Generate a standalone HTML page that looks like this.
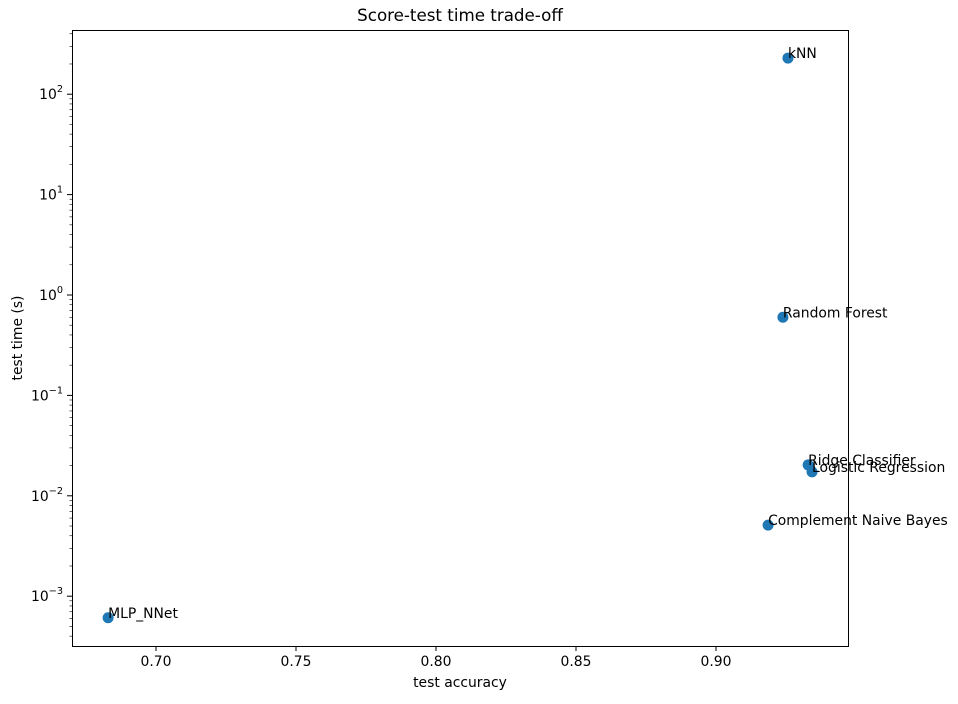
<!DOCTYPE html>
<html><head><meta charset="utf-8"><style>
body{margin:0;background:#fff;}
svg text{font-family:"DejaVu Sans","Liberation Sans",sans-serif;fill:#000;}
</style></head><body>
<svg id="chart" width="958" height="699" viewBox="0 0 958 699" xmlns="http://www.w3.org/2000/svg">
<text x="460" y="21" font-size="16.7" text-anchor="middle">Score-test time trade-off</text>
<g id="plot"></g>
<rect x="72.5" y="30.5" width="776" height="616" fill="none" stroke="#000" stroke-width="1"/>
<text x="460" y="687" font-size="13.9" text-anchor="middle">test accuracy</text>
<text transform="translate(22,338) rotate(-90)" font-size="13.9" text-anchor="middle">test time (s)</text>
</svg>
<script>
const models = ["kNN","Random Forest","Ridge Classifier","Logistic Regression","Complement Naive Bayes","MLP_NNet"];
const accuracy = [0.9257,0.9239,0.9329,0.9343,0.9186,0.6829];
const testTime = [229,0.60,0.0203,0.0173,0.0051,0.00061];
const xTicks = [0.70,0.75,0.80,0.85,0.90];
const xTickLabels = ["0.70","0.75","0.80","0.85","0.90"];
const yTickExp = [-3,-2,-1,0,1,2];

const NS="http://www.w3.org/2000/svg";
const g=document.getElementById('plot');
function x(v){return 156+(v-0.7)*2800;}
function y(v){return 295-Math.log10(v)*100.4;}
function mk(t,a){const e=document.createElementNS(NS,t);for(const k in a)e.setAttribute(k,a[k]);g.appendChild(e);return e;}

xTicks.forEach((v,i)=>{
  const t=mk('line',{x1:x(v),x2:x(v),y1:646,y2:651,stroke:'#000'});
  
  
  const l=mk('text',{x:x(v),y:666,'font-size':13.9,'text-anchor':'middle'});
  l.textContent=xTickLabels[i];
  
  
});
yTickExp.forEach(e=>{
  const yy=y(Math.pow(10,e));
  const t=mk('line',{x1:67,x2:72,y1:yy,y2:yy,stroke:'#000'});
  
  
  const l=mk('text',{x:63,y:yy+5,'font-size':13.9,'text-anchor':'end'});
  l.innerHTML='10<tspan dy="-7" font-size="9.7">'+(e<0?'\u2212'+(-e):e)+'</tspan>';
  
  
});
for(let e=-4;e<=2;e++){for(let m=2;m<=9;m++){const v=m*Math.pow(10,e);const yy=y(v);if(yy<31||yy>646)continue;
  const t=mk('line',{x1:69.5,x2:72,y1:yy,y2:yy,stroke:'#000','stroke-width':0.6});
  
  }}

models.forEach((m,i)=>{
  const px=x(accuracy[i]),py=y(testTime[i]);
  const c=mk('circle',{cx:px,cy:py,r:5.5,fill:'#1f77b4'});
  
  
  const l=mk('text',{x:px,y:py,'font-size':13.9});
  l.textContent=m;
  
  
});
</script>
</body></html>
